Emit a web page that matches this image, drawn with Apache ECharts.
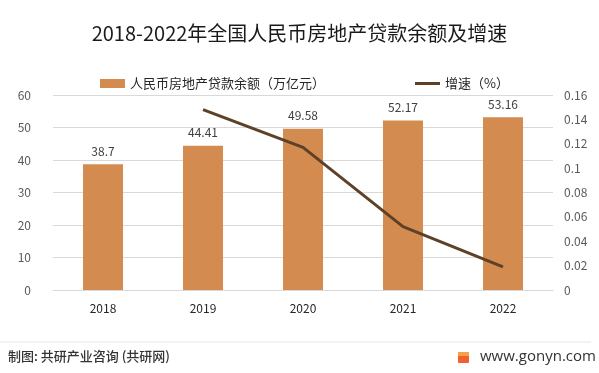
<!DOCTYPE html>
<html>
<head>
<meta charset="utf-8">
<script src="https://cdn.jsdelivr.net/npm/echarts@6/dist/echarts.min.js"></script>
<style>html,body{margin:0;padding:0;background:#fff}#c{width:599px;height:373px}</style>
</head>
<body>
<div id="c"></div>
<script>
const years = ['2018', '2019', '2020', '2021', '2022'];
const loanBalance = [38.7, 44.41, 49.58, 52.17, 53.16];
const growthRate = [null, 0.148, 0.117, 0.052, 0.019];
const seriesNames = ['人民币房地产贷款余额（万亿元）', '增速（%）'];
const titleText = '2018-2022年全国人民币房地产贷款余额及增速';
const sourceText = '制图: 共研产业咨询 (共研网)';
const siteText = 'www.gonyn.com';

const chart = echarts.init(document.getElementById('c'), null, {renderer: 'canvas'});
const font = '"Microsoft YaHei","Noto Sans CJK SC",sans-serif';
chart.setOption({
  backgroundColor: '#fff',
  animation: false,
  title: {
    text: titleText, left: 'center', top: 18,
    textStyle: {fontSize: 20, fontWeight: 'normal', color: '#1a1a1a', fontFamily: font}
  },
  legend: {
    top: 72, left: 95, itemGap: 90, itemWidth: 25, itemHeight: 9,
    textStyle: {fontSize: 13, color: '#262626', fontFamily: font},
    data: [
      {name: seriesNames[0], icon: 'rect'},
      {name: seriesNames[1], icon: 'path://M0,0 L25,0 L25,3 L0,3 Z', itemStyle: {color: '#5f4128'}}
    ]
  },
  grid: {left: 53, right: 46, top: 95, bottom: 83},
  xAxis: {
    type: 'category', data: years,
    axisTick: {show: false},
    axisLine: {lineStyle: {color: '#d9d9d9'}},
    axisLabel: {color: '#262626', fontSize: 12, margin: 12, fontFamily: font}
  },
  yAxis: [
    {
      type: 'value', min: 0, max: 60, interval: 10,
      axisLabel: {color: '#595959', fontSize: 12, margin: 22, fontFamily: font},
      splitLine: {lineStyle: {color: '#d9d9d9'}},
      axisLine: {show: false}, axisTick: {show: false}
    },
    {
      type: 'value', min: 0, max: 0.16, interval: 0.02,
      axisLabel: {color: '#595959', fontSize: 12, margin: 11, fontFamily: font,
        formatter: v => String(+v.toFixed(2))},
      splitLine: {show: false}, axisLine: {show: false}, axisTick: {show: false}
    }
  ],
  series: [
    {
      name: seriesNames[0], type: 'bar', data: loanBalance, barWidth: 40,
      itemStyle: {color: '#d38b4f'},
      label: {show: true, position: 'top', distance: 7, color: '#404040', fontSize: 12, fontFamily: font}
    },
    {
      name: seriesNames[1], type: 'line', yAxisIndex: 1, data: growthRate,
      showSymbol: false, symbol: 'none',
      lineStyle: {color: '#5f4128', width: 3},
      itemStyle: {color: '#5f4128'}
    }
  ],
  graphic: [
    {type: 'line', shape: {x1: 0, y1: 342, x2: 591, y2: 342}, style: {stroke: '#e6e6e6', lineWidth: 1}},
    {type: 'text', left: 8, top: 350, style: {text: sourceText, fontSize: 13, fontWeight: 500, fill: '#333', fontFamily: font}},
    {type: 'rect', shape: {x: 458, y: 352, width: 11, height: 11, r: 1}, style: {fill: '#f0622d'}},
    {type: 'rect', shape: {x: 458, y: 352, width: 11, height: 4}, style: {fill: '#f7a04b'}},
    {type: 'text', left: 480, top: 349, style: {text: siteText, fontSize: 15, fill: '#333', fontFamily: '"Open Sans",sans-serif'}}
  ]
});
</script>
</body>
</html>
